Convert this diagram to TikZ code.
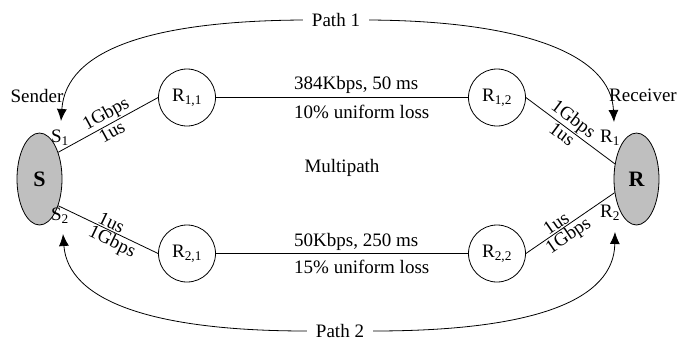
\documentclass[tikz,border=0pt]{standalone}
\usepackage{fontspec}
\setmainfont{Liberation Serif}
\usetikzlibrary{arrows.meta,shapes.geometric}
\begin{document}
\begin{tikzpicture}[x=1pt,y=-1pt,
  txt/.style={font=\fontsize{19}{22}\selectfont, inner sep=1pt},
  pathlabel/.style={txt, inner xsep=9pt},
  host/.style={ellipse, draw, fill=gray!50, line width=0.8pt,
    minimum width=45pt, minimum height=92pt, inner sep=0pt,
    font=\fontsize{22}{26}\selectfont\bfseries},
  router/.style={circle, draw, line width=0.8pt, minimum size=57pt,
    inner sep=0pt, font=\fontsize{19}{22}\selectfont},
  link/.style={line width=0.8pt},
  flow/.style={line width=0.8pt, -{Latex[length=12pt,width=10pt]}},
]
\useasboundingbox (0,0) rectangle (678,341);

% end hosts
\node[host] (S) at (39.5,179) {S};
\node[host] (R) at (636.5,179) {R};

% routers
\node[router] (R11) at (187,97.5) {R\textsubscript{1,1}};
\node[router] (R12) at (497,97.5) {R\textsubscript{1,2}};
\node[router] (R21) at (187,253.5) {R\textsubscript{2,1}};
\node[router] (R22) at (497,253.5) {R\textsubscript{2,2}};

% host labels
\node[txt] (snd) at (37,96) {Sender};
\node[txt] (rcv) at (643,95) {Receiver};
\node[txt] (s1) at (60,138) {S\textsubscript{1}};
\node[txt] (s2) at (60,216) {S\textsubscript{2}};
\node[txt] (r1) at (610,138) {R\textsubscript{1}};
\node[txt] (r2) at (610,213) {R\textsubscript{2}};

% access links
\draw[link] (S.55) -- node[txt,sloped,above,pos=0.53]{1Gbps} node[txt,sloped,below,pos=0.5]{1us} (R11.west);
\draw[link] (S.-55) -- node[txt,sloped,above,pos=0.5]{1us} node[txt,sloped,below,pos=0.58]{1Gbps} (R21.west);
\draw[link] (R12.east) -- node[txt,sloped,above,pos=0.46]{1Gbps} node[txt,sloped,below,pos=0.46]{1us} (R.145);
\draw[link] (R22.east) -- node[txt,sloped,above,pos=0.39]{1us} node[txt,sloped,below,pos=0.42]{1Gbps} (R.212);

% bottleneck links
\draw[link] (R11) -- (R12);
\draw[link] (R21) -- (R22);
\node[txt, anchor=west] (l1a) at (293,85) {384Kbps, 50 ms};
\node[txt, anchor=west] (l1b) at (293,112) {10\% uniform loss};
\node[txt] (mp) at (342,168) {Multipath};
\node[txt, anchor=west] (l2a) at (293,242) {50Kbps, 250 ms};
\node[txt, anchor=west] (l2b) at (293,267) {15\% uniform loss};

% subflow paths
\node[pathlabel] (P1) at (336,20) {Path 1};
\node[pathlabel] (P2) at (340,331) {Path 2};
\coordinate (s1tip) at (61,121);
\coordinate (r1tip) at (614,122);
\coordinate (s2tip) at (63,234);
\coordinate (r2tip) at (615,232);
\draw[flow] (P1.west) .. controls (150,21) and (66,50) .. (s1tip);
\draw[flow] (P1.east) .. controls (525,21) and (611,55) .. (r1tip);
\draw[flow] (P2.west) .. controls (150,331) and (68,300) .. (s2tip);
\draw[flow] (P2.east) .. controls (535,331) and (614,300) .. (r2tip);
\end{tikzpicture}
\end{document}
